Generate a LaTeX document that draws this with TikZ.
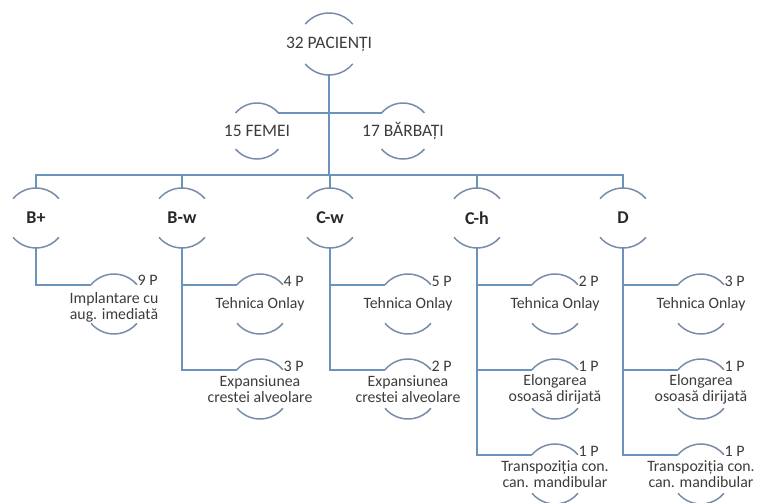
\documentclass[tikz,border=0pt]{standalone}
\usepackage{fontspec}
\setmainfont{Carlito}
\definecolor{connc}{RGB}{108,146,190}
\definecolor{arcc}{RGB}{120,140,170}
\definecolor{txtc}{RGB}{60,60,60}
\definecolor{boldc}{RGB}{40,40,40}
\newcommand\nodearcs[2]{%
  \draw[arcline] (#1.140) arc[start angle=140,end angle=40,radius=#2];
  \draw[arcline] (#1.-140) arc[start angle=-140,end angle=-40,radius=#2];}
\begin{document}
\begin{tikzpicture}[x=1pt,y=1pt,
  conn/.style={draw=connc, line width=1.7pt},
  arcline/.style={draw=arcc, line width=1.5pt},
  circ/.style={circle, draw=none, inner sep=0pt, outer sep=0pt, minimum size=#1},
  toptxt/.style={text=txtc, font=\fontsize{17.5}{19}\selectfont, inner sep=0pt},
  lvltxt/.style={text=boldc, font=\fontsize{18}{20}\selectfont\bfseries, inner sep=0pt},
  leaftxt/.style={text=txtc, font=\fontsize{15.8}{16.2}\selectfont, align=center, inner sep=0pt},
  numtxt/.style={text=txtc, font=\fontsize{16}{17}\selectfont, anchor=west, inner sep=0.5pt, yshift=3pt}
]
\useasboundingbox (0,0) rectangle (760,-503);
% level 1
\node[circ=62pt, label={[toptxt]center:32 PACIENȚI}] (p) at (329,-44) {};
% level 2
\node[circ=56pt, label={[toptxt]center:15 FEMEI}] (f) at (257,-131) {};
\node[circ=56pt, label={[toptxt]center:17 BĂRBAȚI}] (b) at (403,-131) {};
% level 3
\node[circ=60pt, label={[lvltxt]center:B+}] (bp) at (36,-218) {};
\node[circ=60pt, label={[lvltxt]center:B-w}] (bw) at (182,-218) {};
\node[circ=60pt, label={[lvltxt]center:C-w}] (cw) at (330,-218) {};
\node[circ=60pt, label={[lvltxt]center:C-h}] (ch) at (477,-218) {};
\node[circ=60pt, label={[lvltxt]center:D}] (dd) at (623,-218) {};
\coordinate (bar) at (0,-175);
% level 4
\node[circ=60pt, label={[leaftxt,yshift=-3pt]center:Implantare cu\\aug. imediată}] (bp1) at (114,-304) {};
\node[circ=60pt, label={[leaftxt]center:Tehnica Onlay}] (bw1) at (260,-304) {};
\node[circ=60pt, label={[leaftxt]center:Expansiunea\\crestei alveolare}] (bw2) at (260,-389) {};
\node[circ=60pt, label={[leaftxt]center:Tehnica Onlay}] (cw1) at (408,-304) {};
\node[circ=60pt, label={[leaftxt]center:Expansiunea\\crestei alveolare}] (cw2) at (408,-389) {};
\node[circ=60pt, label={[leaftxt]center:Tehnica Onlay}] (ch1) at (555,-304) {};
\node[circ=60pt, label={[leaftxt]center:Elongarea\\osoasă dirijată}] (ch2) at (555,-389) {};
\node[circ=60pt, label={[leaftxt]center:Transpoziția con.\\can. mandibular}] (ch3) at (555,-474) {};
\node[circ=60pt, label={[leaftxt]center:Tehnica Onlay}] (dd1) at (701,-304) {};
\node[circ=60pt, label={[leaftxt]center:Elongarea\\osoasă dirijată}] (dd2) at (701,-389) {};
\node[circ=60pt, label={[leaftxt]center:Transpoziția con.\\can. mandibular}] (dd3) at (701,-474) {};
% number labels
\node[numtxt, yshift=1.5pt] (nbp1) at (bp1.40) {9 P};
\node[numtxt] (nbw1) at (bw1.40) {4 P};
\node[numtxt] (nbw2) at (bw2.40) {3 P};
\node[numtxt] (ncw1) at (cw1.40) {5 P};
\node[numtxt] (ncw2) at (cw2.40) {2 P};
\node[numtxt] (nch1) at (ch1.40) {2 P};
\node[numtxt] (nch2) at (ch2.40) {1 P};
\node[numtxt] (nch3) at (ch3.40) {1 P};
\node[numtxt] (ndd1) at (dd1.40) {3 P};
\node[numtxt] (ndd2) at (dd2.40) {1 P};
\node[numtxt] (ndd3) at (dd3.40) {1 P};
% connectors
\draw[conn] (p.south) -- (p.south |- bar);
\draw[conn] (f.40) -- (b.140);
\draw[conn] (bp.north) -- (bp.north |- bar) -- (dd.north |- bar) -- (dd.north);
\draw[conn] (bw.north) -- (bw.north |- bar);
\draw[conn] (cw.north) -- (cw.north |- bar);
\draw[conn] (ch.north) -- (ch.north |- bar);
\draw[conn] (bp.south) |- (bp1.140);
\draw[conn] (bw.south) |- (bw2.140);
\draw[conn] (bw.south |- bw1.140) -- (bw1.140);
\draw[conn] (cw.south) |- (cw2.140);
\draw[conn] (cw.south |- cw1.140) -- (cw1.140);
\draw[conn] (ch.south) |- (ch3.140);
\draw[conn] (ch.south |- ch1.140) -- (ch1.140);
\draw[conn] (ch.south |- ch2.140) -- (ch2.140);
\draw[conn] (dd.south) |- (dd3.140);
\draw[conn] (dd.south |- dd1.140) -- (dd1.140);
\draw[conn] (dd.south |- dd2.140) -- (dd2.140);
% arcs
\nodearcs{p}{31pt}
\nodearcs{f}{28pt}
\nodearcs{b}{28pt}
\foreach \n in {bp,bw,cw,ch,dd,bp1,bw1,bw2,cw1,cw2,ch1,ch2,ch3,dd1,dd2,dd3}{\nodearcs{\n}{30pt}}
\end{tikzpicture}
\end{document}
